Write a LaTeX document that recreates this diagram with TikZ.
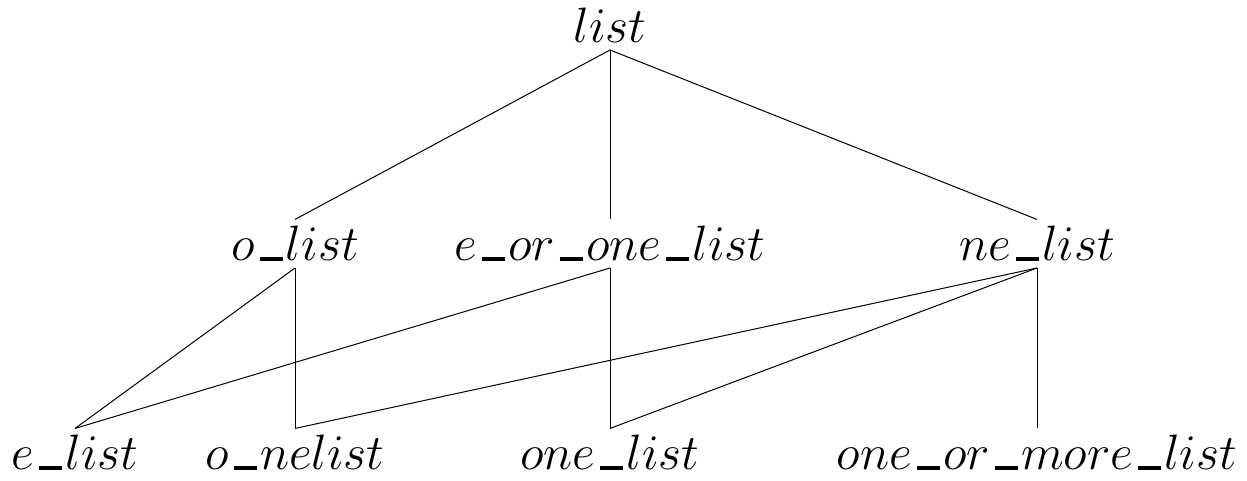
\documentclass[tikz,border=0pt]{standalone}
\usepackage{amsmath}
\usepackage{tikz}
\newcommand{\ubar}{\mbox{\kern.1em\rule{.48em}{.09em}\kern.07em}}

\begin{document}
\begin{tikzpicture}[x=1pt, y=1pt,
  lbl/.style={font=\fontsize{24}{28}\selectfont, inner sep=3.3pt, anchor=base},
  edge/.style={line width=0.5pt}
]
\useasboundingbox (0,0) rectangle (623.5,240.5);
% top
\node[lbl] (l) at (305,219) {$list$};
% middle row
\node[lbl] (ol) at (147.5,110) {$o\ubar list$};
\node[lbl] (eol) at (305,110) {$e\ubar or\ubar one\ubar list$};
\node[lbl] (nel) at (518.5,110) {$ne\ubar list$};
% bottom row
\node[lbl] (el) at (37.5,5.5) {$e\ubar list$};
\node[lbl] (onl) at (147.5,5.5) {$o\ubar nelist$};
\node[lbl] (onel) at (305,5.5) {$one\ubar list$};
\node[lbl] (oml) at (518.5,5.5) {$one\ubar or\ubar more\ubar list$};
\draw[edge] (l.south) -- (ol.north);
\draw[edge] (l.south) -- (eol.north);
\draw[edge] (l.south) -- (nel.north);
\draw[edge] (ol.south) -- (el.north);
\draw[edge] (ol.south) -- (onl.north);
\draw[edge] (eol.south) -- (el.north);
\draw[edge] (eol.south) -- (onel.north);
\draw[edge] (nel.south) -- (onl.north);
\draw[edge] (nel.south) -- (onel.north);
\draw[edge] (nel.south) -- (oml.north);
\end{tikzpicture}
\end{document}
